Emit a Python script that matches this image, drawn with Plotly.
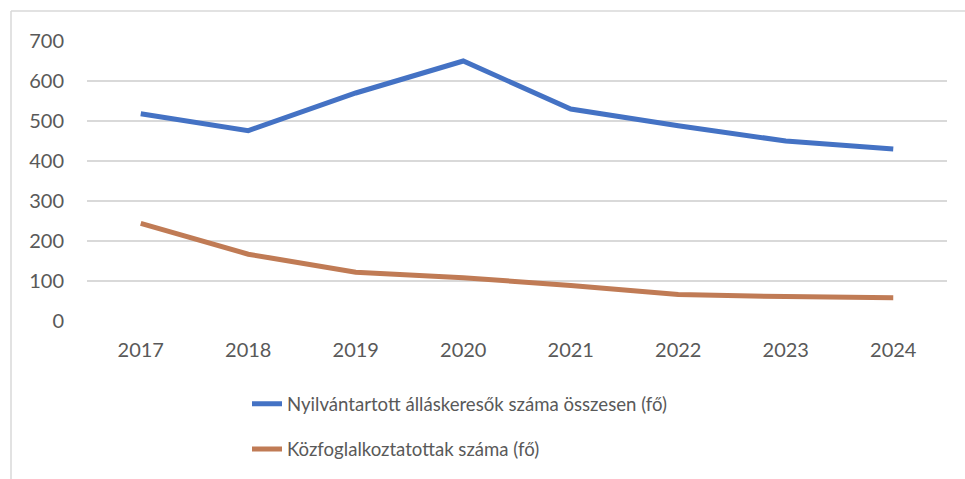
import plotly.graph_objects as go

# Évek és a két idősor (fő)
years = ["2017", "2018", "2019", "2020", "2021", "2022", "2023", "2024"]
allaskeresok = [518, 476, 570, 650, 530, 488, 450, 430]
kozfoglalkoztatottak = [244, 167, 122, 108, 89, 66, 61, 58]

series_names = [
    "Nyilvántartott álláskeresők száma összesen (fő)",
    "Közfoglalkoztatottak száma (fő)",
]
series_colors = ["#4472C4", "#C07B55"]

W, H = 965, 479
ML, MR, MT, MB = 87, 18, 41, 157

fig = go.Figure()
for name, vals, col, grp in zip(series_names, [allaskeresok, kozfoglalkoztatottak], series_colors, ["a", "b"]):
    fig.add_trace(go.Scatter(
        x=years, y=vals, name=name, mode="lines",
        line=dict(color=col, width=5), legendgroup=grp,
    ))

# Keret a diagramterület bal és felső szélén
pw, ph = W - ML - MR, H - MT - MB
bx = (11 - ML) / pw
by = (H - MB - 11) / ph
border = dict(color="#D9D9D9", width=1.5)
fig.add_shape(type="line", xref="paper", yref="paper", x0=bx, x1=bx, y0=by, y1=-2, line=border)
fig.add_shape(type="line", xref="paper", yref="paper", x0=bx, x1=2, y0=by, y1=by, line=border)

fig.update_layout(
    width=W, height=H,
    margin=dict(l=ML, r=MR, t=MT, b=MB),
    paper_bgcolor="white", plot_bgcolor="white",
    font=dict(family="Lato, sans-serif", size=20, color="#595959"),
    showlegend=True,
    legend=dict(
        orientation="v", x=(247 - ML) / pw, xanchor="left",
        y=-0.225, yanchor="top",
        font=dict(size=18.6, color="#595959"),
        tracegroupgap=18, bgcolor="rgba(0,0,0,0)",
    ),
)
fig.update_xaxes(
    type="category", range=[-0.5, len(years) - 0.5],
    showgrid=False, showline=False, zeroline=False,
    ticks="", ticklabelstandoff=15,
)
fig.update_yaxes(
    range=[0, 700], dtick=100, showgrid=True, gridcolor="#D9D9D9", gridwidth=1.5,
    zeroline=False, showline=False, ticks="", ticklabelstandoff=22,
)

fig.write_html("out.html")
